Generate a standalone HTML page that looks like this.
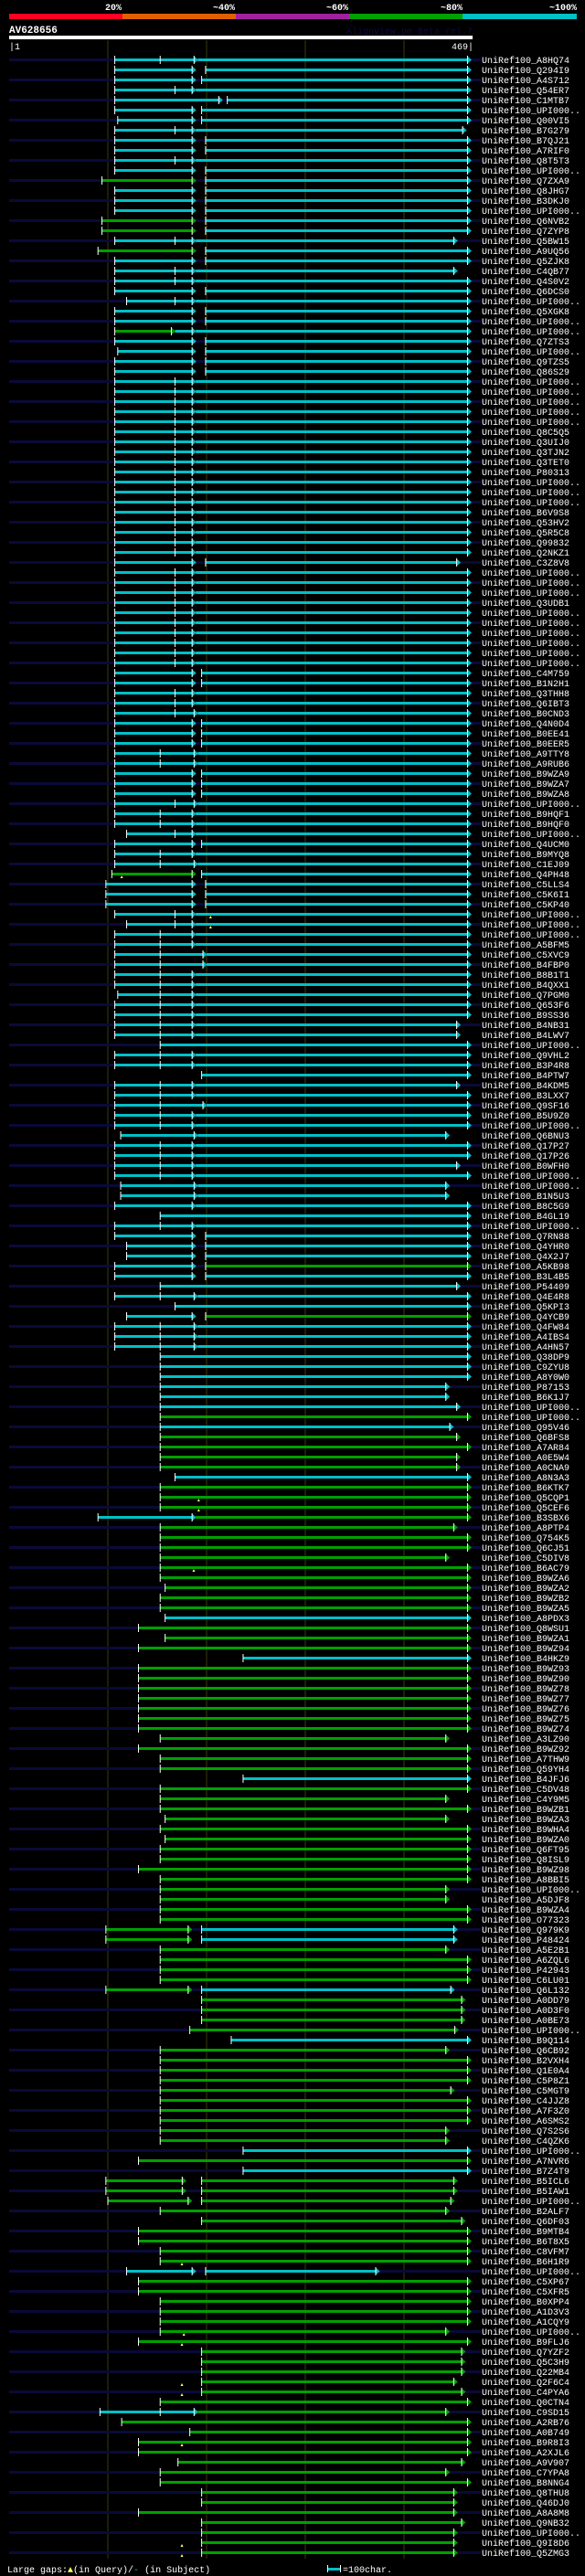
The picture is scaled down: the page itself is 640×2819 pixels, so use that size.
<!DOCTYPE html>
<html><head><meta charset="utf-8"><title>AlignView AV628656</title>
<style>
html,body{margin:0;padding:0;background:#000;}
svg{display:block;}
text{font-family:"Liberation Mono","DejaVu Sans Mono",monospace;}
</style></head>
<body>
<svg id="chart" xmlns="http://www.w3.org/2000/svg" width="640" height="2819" viewBox="0 0 640 2819">
<rect x="0" y="0" width="640" height="2819" fill="#000"/>
<g>
  <rect x="10" y="15" width="124" height="6" fill="#ff0022"/>
  <rect x="134" y="15" width="124" height="6" fill="#e06000"/>
  <rect x="258" y="15" width="124" height="6" fill="#a020a0"/>
  <rect x="382" y="15" width="124" height="6" fill="#00a000"/>
  <rect x="506" y="15" width="125" height="6" fill="#00c0c8"/>
  <g fill="#fff" font-size="10" font-weight="bold" text-anchor="end">
    <text x="133" y="11">20%</text>
    <text x="257" y="11">~40%</text>
    <text x="381" y="11">~60%</text>
    <text x="506" y="11">~80%</text>
    <text x="631" y="11">~100%</text>
  </g>
</g>
<text x="10" y="36" fill="#fff" font-size="11" font-weight="bold">AV628656</text>
<text x="517" y="37" fill="#0c0c40" font-size="10" text-anchor="end">AlignView.pm Beta rel.7</text>
<rect x="10" y="39" width="507" height="4" fill="#fff"/>
<text x="10" y="54" fill="#fff" font-size="10">|1</text>
<text x="518" y="54" fill="#fff" font-size="10" text-anchor="end">469|</text>
<g id="grid"></g>
<g id="rows"></g>
<g>
  <text x="8" y="2815" font-size="10" fill="#fff">Large gaps:<tspan fill="#ffff60">▲</tspan>(in Query)/<tspan fill="#00c0c8">-</tspan> (in Subject)</text>
  <rect x="359" y="2810" width="13" height="3" fill="#00c0c8"/>
  <rect x="358" y="2807" width="1" height="8" fill="#fff"/>
  <rect x="372" y="2807" width="1" height="8" fill="#fff"/>
  <text x="375" y="2815" font-size="10" fill="#fff">=100char.</text>
</g>
</svg>
<script>
const queryLength = 469;
const gridTicks = [100, 200, 300, 400];
const rowLabels = [
"A8HQ74","Q294I9","A4S712","Q54ER7","C1MTB7","UPI000..","Q00VI5","B7G279","B7QJ21","A7RIF0",
"Q8T5T3","UPI000..","Q7ZXA9","Q8JHG7","B3DKJ0","UPI000..","Q6NVB2","Q7ZYP8","Q5BW15","A9UQ56",
"Q5ZJK8","C4QB77","Q4S0V2","Q6DCS0","UPI000..","Q5XGK8","UPI000..","UPI000..","Q7ZTS3","UPI000..",
"Q9TZS5","Q86S29","UPI000..","UPI000..","UPI000..","UPI000..","UPI000..","Q8C5Q5","Q3UIJ0","Q3TJN2",
"Q3TET0","P80313","UPI000..","UPI000..","UPI000..","B6V9S8","Q53HV2","Q5R5C8","Q99832","Q2NKZ1",
"C3Z8V8","UPI000..","UPI000..","UPI000..","Q3UDB1","UPI000..","UPI000..","UPI000..","UPI000..","UPI000..",
"UPI000..","C4M759","B1N2H1","Q3THH8","Q6IBT3","B0CND3","Q4N0D4","B0EE41","B0EER5","A9TTY8",
"A9RUB6","B9WZA9","B9WZA7","B9WZA8","UPI000..","B9HQF1","B9HQF0","UPI000..","Q4UCM0","B9MYQ8",
"C1EJ09","Q4PH48","C5LLS4","C5K6I1","C5KP40","UPI000..","UPI000..","UPI000..","A5BFM5","C5XVC9",
"B4FBP0","B8B1T1","B4QXX1","Q7PGM0","Q653F6","B9SS36","B4NB31","B4LWV7","UPI000..","Q9VHL2",
"B3P4R8","B4PTW7","B4KDM5","B3LXX7","Q9SF16","B5U9Z0","UPI000..","Q6BNU3","Q17P27","Q17P26",
"B0WFH0","UPI000..","UPI000..","B1N5U3","B8C5G9","B4GL19","UPI000..","Q7RN88","Q4YHR0","Q4X2J7",
"A5KB98","B3L4B5","P54409","Q4E4R8","Q5KPI3","Q4YCB9","Q4FW84","A4IBS4","A4HN57","Q38DP9",
"C9ZYU8","A8Y0W0","P87153","B6K1J7","UPI000..","UPI000..","Q95V46","Q6BFS8","A7AR84","A0E5W4",
"A0CNA9","A8N3A3","B6KTK7","Q5CQP1","Q5CEF6","B3SBX6","A8PTP4","Q754K5","Q6CJ51","C5DIV8",
"B6AC79","B9WZA6","B9WZA2","B9WZB2","B9WZA5","A8PDX3","Q8WSU1","B9WZA1","B9WZ94","B4HKZ9",
"B9WZ93","B9WZ90","B9WZ78","B9WZ77","B9WZ76","B9WZ75","B9WZ74","A3LZ90","B9WZ92","A7THW9",
"Q59YH4","B4JFJ6","C5DV48","C4Y9M5","B9WZB1","B9WZA3","B9WHA4","B9WZA0","Q6FT95","Q8ISL9",
"B9WZ98","A8BBI5","UPI000..","A5DJF8","B9WZA4","O77323","Q979K9","P48424","A5E2B1","A6ZQL6",
"P42943","C6LU01","Q6L132","A0DD79","A0D3F0","A0BE73","UPI000..","B9Q114","Q6CB92","B2VXH4",
"Q1E0A4","C5P8Z1","C5MGT9","C4JJZ8","A7F3Z0","A6SMS2","Q7S2S6","C4QZK6","UPI000..","A7NVR6",
"B7Z4T9","B5ICL6","B5IAW1","UPI000..","B2ALF7","Q6DF03","B9MTB4","B6T8X5","C8VFM7","B6H1R9",
"UPI000..","C5XP67","C5XFR5","B0XPP4","A1D3V3","A1CQY9","UPI000..","B9FLJ6","Q7YZF2","Q5C3H9",
"Q22MB4","Q2F6C4","C4PYA6","Q0CTN4","C9SD15","A2RB76","A0B749","B9R8I3","A2XJL6","A9V907",
"C7YPA8","B8NNG4","Q8THU8","Q46DJ0","A8A8M8","Q9NB32","UPI000..","Q9I8D6","Q5ZMG3"
];
const rowSegments = [
"108-192c 192-469cn","108-190c 200-469c","108-190c 196-469c","108-190c 190-469cn","108-217c 222-469c",
"108-190c 196-469c","111-190c 196-469c","108-190c 190-464cn","108-190c 200-469c","108-190c 200-469c",
"108-190c 190-469cn","108-190c 200-469c","95-190g 200-469c","108-190c 200-469c","108-190c 200-469c",
"108-190c 200-469c","95-190g 200-469c","95-190g 200-469c","108-190c 190-455cn","91-190g 200-469c",
"108-190c 200-469c","108-190c 190-455cn","108-190c 190-469cn","108-190c 200-469c","120-190c 190-469cn",
"108-190c 200-469c","108-190c 200-469c","108-169g 169-190cn 190-469cn","108-190c 200-469c","111-190c 200-469c",
"108-190c 200-469c","108-190c 200-469c","108-190c 190-469cn","108-190c 190-469cn","108-190c 190-469cn",
"108-190c 190-469cn","108-190c 190-469cn","108-190c 190-469cn","108-190c 190-469cn","108-190c 190-469cn",
"108-190c 190-469cn","108-190c 190-469cn","108-190c 190-469cn","108-190c 190-469cn","108-190c 190-469cn",
"108-190c 190-469cn","108-190c 190-469cn","108-190c 190-469cn","108-190c 190-469cn","108-190c 190-469cn",
"108-190c 200-458c","108-190c 190-469cn","108-190c 190-469cn","108-190c 190-469cn","108-190c 190-469cn",
"108-190c 190-469cn","108-190c 190-469cn","108-190c 190-469cn","108-190c 190-469cn","108-190c 190-469cn",
"108-190c 190-469cn","108-190c 196-469c","108-190c 196-469c","108-190c 190-469cn","108-190c 190-469cn",
"108-192c 192-469cn","108-190c 196-469c","108-190c 196-469c","108-190c 196-469c","108-192c 192-469cn",
"108-192c 192-469cn","108-190c 196-469c","108-190c 196-469c","108-190c 196-469c","108-192c 192-469cn",
"108-190c 190-469cn","108-190c 190-469cn","120-190c 190-469cn","108-190c 196-469c","108-190c 190-469cn",
"108-192c 192-469cn","105-190g 196-469c","99-190c 200-469c","99-190c 200-469c","99-190c 200-469c",
"108-190c 190-469cn","120-190c 190-469cn","108-190c 190-469cn","108-190c 190-469cn","108-201c 201-469cn",
"108-201c 201-469cn","108-190c 190-469cn","108-190c 190-469cn","111-190c 190-469cn","108-190c 190-469cn",
"108-190c 190-469cn","108-190c 190-458cn","108-190c 190-458cn","154-469c","108-190c 190-469cn",
"108-190c 190-469cn","196-469c","108-190c 190-458cn","108-190c 190-469cn","108-201c 201-469cn",
"108-190c 190-469cn","108-190c 190-469cn","114-192c 192-447cn","108-190c 190-469cn","108-190c 190-469cn",
"108-190c 190-458cn","108-190c 190-469cn","114-192c 192-447cn","114-192c 192-447cn","108-190c 190-469cn",
"154-469c","108-190c 190-469cn","108-190c 200-469c","120-190c 200-469c","120-190c 200-469c",
"108-190c 200-469g","108-190c 200-469c","154-458c","108-192c 192-469cn","169-469c",
"120-190c 200-469g","108-192c 192-469cn","108-192c 192-469cn","108-192c 192-469cn","154-469c",
"154-469c","154-469c","154-447c","154-447c","154-458c",
"154-469g","154-451c","154-458g","154-469g","154-458g",
"154-458g","169-469c","154-469g","154-469g","154-469g",
"91-190c 190-469gn","154-455g","154-469g","154-469g","154-447g",
"154-469g","154-469g","159-469g","154-469g","154-469g",
"159-469c","132-469g","159-469g","132-469g","238-469c",
"132-469g","132-469g","132-469g","132-469g","132-469g",
"132-469g","132-469g","154-447g","132-469g","154-469g",
"154-469g","238-469c","154-469g","154-447g","154-469g",
"159-447g","154-469g","159-469g","154-469g","154-469g",
"132-469g","154-469g","154-447g","154-447g","154-469g",
"154-469g","99-186g 196-455c","99-186g 196-455c","154-447g","154-469g",
"154-469g","154-469g","99-186g 196-452c","196-463g","196-463g",
"196-463g","184-456g","226-469c","154-447g","154-469g",
"154-469g","154-469g","154-452g","154-469g","154-469g",
"154-469g","154-447g","154-447g","238-469c","132-469g",
"238-469c","99-180g 196-455g","99-180g 196-455g","101-186g 196-452g","154-447g",
"196-463g","132-469g","132-469g","154-469g","154-469g",
"120-190c 200-376c","132-469g","132-469g","154-469g","154-469g",
"154-469g","154-447g","132-469g","196-463g","196-463g",
"196-463g","196-455g","196-463g","154-469g","93-192c 192-447gn",
"115-469g","184-469g","132-469g","132-469g","172-463g",
"154-447g","154-469g","196-455g","196-455g","132-455g",
"196-463g","196-455g","196-455g","196-455g"
];
const rowTicks = [
154,0,0,169,0,0,0,169,0,0,
169,0,0,0,0,0,0,0,169,0,
0,169,169,0,169,0,0,0,0,0,
0,0,169,169,169,169,169,169,169,169,
169,169,169,169,169,169,169,169,169,169,
0,169,169,169,169,169,169,169,169,169,
169,0,0,169,169,169,0,0,0,154,
154,0,0,0,169,154,154,169,0,154,
154,0,0,0,0,169,169,154,154,154,
154,154,154,154,154,154,154,154,0,154,
154,0,154,154,154,154,154,0,154,154,
154,154,0,0,0,0,154,0,0,0,
0,0,0,154,0,0,154,154,154,0,
0,0,0,0,0,0,0,0,0,0,
0,0,0,0,0,0,0,0,0,0,
0,0,0,0,0,0,0,0,0,0,
0,0,0,0,0,0,0,0,0,0,
0,0,0,0,0,0,0,0,0,0,
0,0,0,0,0,0,0,0,0,0,
0,0,0,0,0,0,0,0,0,0,
0,0,0,0,0,0,0,0,0,0,
0,0,0,0,0,0,0,0,0,0,
0,0,0,0,0,0,0,0,0,0,
0,0,0,0,154,0,0,0,0,0,
0,0,0,0,0,0,0,0,0
];
const rowGaps = [
0,0,0,0,0,0,0,0,0,0, 0,0,0,0,0,0,0,0,0,0, 0,0,0,0,0,0,0,0,0,0, 0,0,0,0,0,0,0,0,0,0,
0,0,0,0,0,0,0,0,0,0, 0,0,0,0,0,0,0,0,0,0, 0,0,0,0,0,0,0,0,0,0, 0,0,0,0,0,0,0,0,0,0,
0,115,0,0,0,205,205,0,0,0, 0,0,0,0,0,0,0,0,0,0, 0,0,0,0,0,0,0,0,0,0, 0,0,0,0,0,0,0,0,0,0,
0,0,0,0,0,0,0,0,0,0, 0,0,0,0,0,0,0,0,0,0, 0,0,0,193,193,0,0,0,0,0, 188,0,0,0,0,0,0,0,0,0,
0,0,0,0,0,0,0,0,0,0, 0,0,0,0,0,0,0,0,0,0, 0,0,0,0,0,0,0,0,0,0, 0,0,0,0,0,0,0,0,0,0,
0,0,0,0,0,0,0,0,0,0, 0,0,0,0,0,0,0,0,0,176, 0,0,0,0,0,0,178,176,0,0,
0,176,176,0,0,0,0,176,0,0, 0,0,0,0,0,0,0,176,176,0, 0,0,0,0,0,0,0,0,0
];

const SVGNS = "http://www.w3.org/2000/svg";
const X0 = 10, PX_PER = 1.08, ROW_Y0 = 65, ROW_H = 11;
const COLORS = { c: "#00c0c8", g: "#00a000" };
function xScale(pos) { return X0 + (pos - 1) * PX_PER; }
function yScale(i) { return ROW_Y0 + i * ROW_H; }
function mk(tag, attrs, parent) {
  const el = document.createElementNS(SVGNS, tag);
  for (const k in attrs) el.setAttribute(k, attrs[k]);
  parent.appendChild(el);
  return el;
}

const grid = document.getElementById('grid');
gridTicks.forEach(function (t) {
  const gl = mk('rect', { x: Math.round(xScale(t + 1)) - 0.5, y: 44, width: 1, height: 2756, fill: '#3a3a12' }, grid);
  
  
});

const rowsG = document.getElementById('rows');
rowLabels.forEach(function (lab, i) {
  const y = yScale(i);
  const g = mk('g', {}, rowsG);
  
  
  if (i % 2 === 0) {
    const bg = mk('rect', { x: X0, y: y - 1, width: 516, height: 3, fill: '#0a0a38' }, g);
    
    
  }
  rowSegments[i].split(' ').forEach(function (tok) {
    const m = tok.match(/^(\d+)-(\d+)([cg])(n?)$/);
    if (!m) return;
    const s = +m[1], e = +m[2], col = COLORS[m[3]], cont = m[4] === 'n';
    const xs = xScale(s), xe = xScale(e);
    const line = mk('rect', { x: xs, y: y - 1, width: Math.max(0, xe - 4 - xs), height: 3, fill: col }, g);
    
    
    const arrow = mk('polygon', { points: (xe - 4) + ',' + (y - 3.5) + ' ' + (xe + 0.5) + ',' + (y + 0.5) + ' ' + (xe - 4) + ',' + (y + 4.5), fill: col }, g);
    
    
    const ae = mk('rect', { x: xe - 4.5, y: y - 4, width: 1, height: 9, fill: '#fff' }, g);
    
    
    if (!cont) {
      const st = mk('rect', { x: xs - 0.5, y: y - 4, width: 1, height: 9, fill: '#fff' }, g);
      
      
    }
  });
  if (rowTicks[i]) {
    const tk = mk('rect', { x: xScale(rowTicks[i]) - 0.5, y: y - 4, width: 1, height: 9, fill: '#fff' }, g);
    
    
  }
  if (rowGaps[i]) {
    const gx = xScale(rowGaps[i]);
    const gp = mk('polygon', { points: (gx - 1.5) + ',' + (y + 5) + ' ' + gx + ',' + (y + 2) + ' ' + (gx + 1.5) + ',' + (y + 5), fill: '#ffff60' }, g);
    
    
  }
  const t = mk('text', { x: 527, y: y + 4, fill: '#fff', 'font-size': 10 }, g);
  t.textContent = 'UniRef100_' + lab;
  
  
});
</script>
</body></html>
